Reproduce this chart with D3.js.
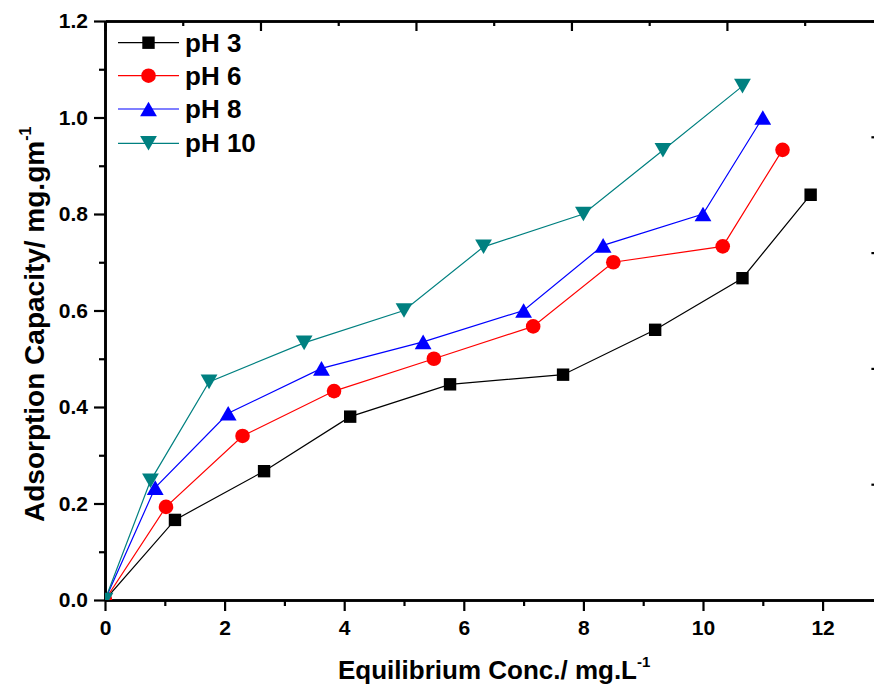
<!DOCTYPE html>
<html>
<head>
<meta charset="utf-8">
<script src="https://cdn.jsdelivr.net/npm/d3@7"></script>
<style>
  html, body { margin: 0; padding: 0; background: #fff; }
  svg { display: block; }
  text { font-family: "Liberation Sans", Arial, sans-serif; font-weight: bold; fill: #000; }
</style>
</head>
<body>
<svg id="chart" width="874" height="691"></svg>
<script>
// Equilibrium concentration (mg/L) and adsorption capacity (mg/g) per pH
const seriesNames = ["pH 3", "pH 6", "pH 8", "pH 10"];
const concPH3  = [0, 1.17, 2.66, 4.10, 5.77, 7.66, 9.20, 10.66, 11.80];
const capPH3   = [0, 0.166, 0.267, 0.380, 0.447, 0.467, 0.560, 0.667, 0.840];
const concPH6  = [0, 1.02, 2.30, 3.83, 5.50, 7.16, 8.50, 10.33, 11.33];
const capPH6   = [0, 0.193, 0.340, 0.433, 0.500, 0.567, 0.700, 0.733, 0.933];
const concPH8  = [0, 0.84, 2.06, 3.62, 5.32, 7.00, 8.33, 10.00, 11.00];
const capPH8   = [0, 0.233, 0.387, 0.480, 0.535, 0.600, 0.735, 0.800, 1.000];
const concPH10 = [0, 0.76, 1.74, 3.33, 5.00, 6.33, 8.00, 9.33, 10.66];
const capPH10  = [0, 0.247, 0.452, 0.533, 0.600, 0.732, 0.800, 0.932, 1.065];

// Axis ticks
const xMajorTicks = [0, 2, 4, 6, 8, 10, 12];
const xMinorTicks = [1, 3, 5, 7, 9, 11, 13];
const yMajorTicks = [0, 0.2, 0.4, 0.6, 0.8, 1.0, 1.2];
const yMinorTicks = [0.1, 0.3, 0.5, 0.7, 0.9, 1.1];

const colors = ["#000000", "#ff0000", "#0000ff", "#008080"];
const shapes = ["square", "circle", "triangleUp", "triangleDown"];

const series = seriesNames.map((name, i) => {
  const xs = [concPH3, concPH6, concPH8, concPH10][i];
  const ys = [capPH3, capPH6, capPH8, capPH10][i];
  return { name, color: colors[i], shape: shapes[i], points: xs.map((x, j) => ({ x, y: ys[j] })) };
});

const svg = d3.select("#chart");
const plotLeft = 105, plotRight = 882.4, plotTop = 21, plotBottom = 600;

const x = d3.scaleLinear().domain([0, 13]).range([plotLeft, plotRight]);
const y = d3.scaleLinear().domain([0, 1.2]).range([plotBottom, plotTop]);
// Frame scales for the opposite axes (ticks only)
const xTop = d3.scaleLinear().domain([0, 10]).range([plotLeft, plotRight]);
const yRight = d3.scaleLinear().domain([0, 5]).range([plotBottom, plotTop]);

function styleAxis(g) {
  g.selectAll("path.domain").attr("stroke", "#000").attr("stroke-width", 2.6);
  g.selectAll(".tick line").attr("stroke", "#000").attr("stroke-width", 2.2);
}

// Bottom axis
svg.append("g").attr("transform", `translate(0,${plotBottom})`)
  .call(d3.axisBottom(x).tickValues(xMinorTicks).tickSize(6).tickSizeOuter(0).tickFormat(""))
  .call(styleAxis);
const gx = svg.append("g").attr("transform", `translate(0,${plotBottom})`)
  .call(d3.axisBottom(x).tickValues(xMajorTicks).tickSize(11).tickSizeOuter(0).tickPadding(9).tickFormat(d3.format("d")))
  .call(styleAxis);
gx.selectAll("text").attr("font-size", 21);

// Left axis
svg.append("g").attr("transform", `translate(${plotLeft},0)`)
  .call(d3.axisLeft(y).tickValues(yMinorTicks).tickSize(6).tickSizeOuter(0).tickFormat(""))
  .call(styleAxis);
const gy = svg.append("g").attr("transform", `translate(${plotLeft},0)`)
  .call(d3.axisLeft(y).tickValues(yMajorTicks).tickSize(11).tickSizeOuter(0).tickPadding(6).tickFormat(d3.format(".1f")))
  .call(styleAxis);
gy.selectAll("text").attr("font-size", 21);

// Top axis, ticks pointing inward
svg.append("g").attr("transform", `translate(0,${plotTop})`)
  .call(d3.axisTop(xTop).tickValues(d3.range(1, 10, 2)).tickSize(-5).tickSizeOuter(0).tickFormat(""))
  .call(styleAxis);
svg.append("g").attr("transform", `translate(0,${plotTop})`)
  .call(d3.axisTop(xTop).tickValues(d3.range(0, 11, 2)).tickSize(-10).tickSizeOuter(0).tickFormat(""))
  .call(styleAxis);

// Right axis, ticks pointing inward
svg.append("g").attr("transform", `translate(${plotRight},0)`)
  .call(d3.axisRight(yRight).tickValues(d3.range(0, 6)).tickSize(-11).tickSizeOuter(0).tickFormat(""))
  .call(styleAxis);

// Axis titles
const xTitle = svg.append("text").attr("x", 338).attr("y", 679).attr("font-size", 26);
xTitle.append("tspan").text("Equilibrium Conc./ mg.L");
xTitle.append("tspan").attr("font-size", 15).attr("dy", -12).text("-1");

const yTitle = svg.append("text")
  .attr("transform", "translate(44,522) rotate(-90)")
  .attr("font-size", 28);
yTitle.append("tspan").text("Adsorption Capacity/ mg.gm");
yTitle.append("tspan").attr("font-size", 16).attr("dy", -13).text("-1");

// Marker shapes
function markerPath(shape) {
  switch (shape) {
    case "square": return "M-6.2,-6.2H6.2V6.2H-6.2Z";
    case "circle": return d3.symbol(d3.symbolCircle, Math.PI * 7.3 * 7.3)();
    case "triangleUp": return "M0,-7.3L8.4,7.3H-8.4Z";
    case "triangleDown": return "M0,7.3L8.4,-7.3H-8.4Z";
  }
}

// Plot area clip
svg.append("clipPath").attr("id", "plot-clip")
  .append("rect").attr("x", plotLeft).attr("y", plotTop)
  .attr("width", plotRight - plotLeft).attr("height", plotBottom - plotTop);

const plot = svg.append("g").attr("clip-path", "url(#plot-clip)");
const line = d3.line().x(d => x(d.x)).y(d => y(d.y));

series.forEach(s => {
  const g = plot.append("g");
  g.append("path").datum(s.points)
    .attr("d", line).attr("fill", "none").attr("stroke", s.color).attr("stroke-width", 1.2);
  g.selectAll("path.marker").data(s.points).join("path")
    .attr("class", "marker")
    .attr("transform", d => `translate(${x(d.x)},${y(d.y)})`)
    .attr("d", markerPath(s.shape))
    .attr("fill", s.color);
});

// Legend
const legendRows = [42.7, 75.7, 109, 143.3];
const legend = svg.append("g");
series.forEach((s, i) => {
  const ry = legendRows[i];
  legend.append("line").attr("x1", 118).attr("x2", 179).attr("y1", ry).attr("y2", ry)
    .attr("stroke", s.color).attr("stroke-width", 1.2);
  legend.append("path").attr("transform", `translate(148.5,${ry})`)
    .attr("d", markerPath(s.shape)).attr("fill", s.color);
  legend.append("text").attr("x", 185).attr("y", ry + 9).attr("font-size", 26).text(s.name);
});
</script>
</body>
</html>
